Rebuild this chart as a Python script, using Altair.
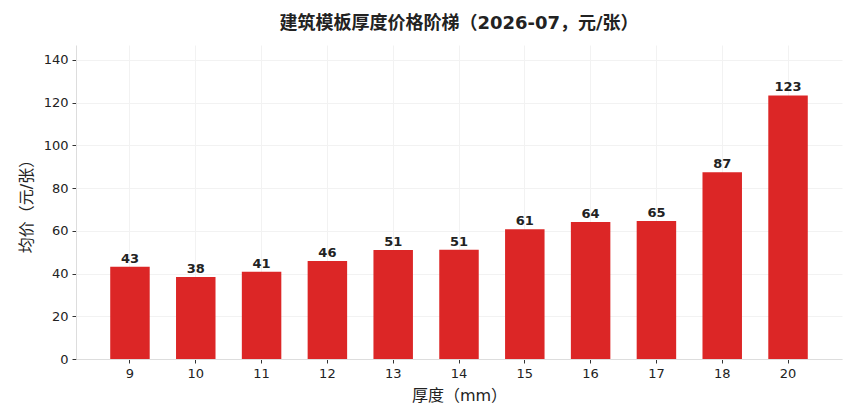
import altair as alt
import pandas as pd

thickness = ["9", "10", "11", "12", "13", "14", "15", "16", "17", "18", "20"]
price = [43.2, 38.4, 40.8, 45.9, 51.0, 51.2, 60.8, 64.1, 64.6, 87.4, 123.4]

df = pd.DataFrame({"厚度": thickness, "均价": price})

FONT = "DejaVu Sans, Noto Sans CJK SC, sans-serif"

base = alt.Chart(df).encode(
    x=alt.X(
        "厚度:N",
        sort=thickness,
        title="厚度（mm）",
        scale=alt.Scale(paddingInner=0.4, paddingOuter=0.52),
        axis=alt.Axis(
            labelAngle=0,
            bandPosition=0.5,
            grid=True,
            gridColor="#f2f2f2",
            domainColor="#dddddd",
            tickColor="#333333",
            tickSize=4,
            labelFontSize=13,
            labelColor="#222222",
            labelPadding=4,
            titleFontSize=16,
            titleFontWeight="normal",
            titleColor="#222222",
            titlePadding=7,
        ),
    ),
    y=alt.Y(
        "均价:Q",
        title="均价（元/张）",
        scale=alt.Scale(domain=[0, 147], nice=False),
        axis=alt.Axis(
            values=[0, 20, 40, 60, 80, 100, 120, 140],
            grid=True,
            gridColor="#f2f2f2",
            domainColor="#dddddd",
            tickColor="#333333",
            tickSize=4,
            labelFontSize=13,
            labelColor="#222222",
            labelPadding=4,
            titleFontSize=16,
            titleFontWeight="normal",
            titleColor="#222222",
            titlePadding=9,
        ),
    ),
)

bars = base.mark_bar(color="#dc2626")
labels = base.mark_text(
    dy=-8, fontSize=13, fontWeight="bold", color="#222222", font=FONT
).encode(text=alt.Text("均价:Q", format=".0f"))

chart = (
    (bars + labels)
    .properties(
        width=766,
        height=314,
        autosize=alt.AutoSizeParams(type="none"),
        padding={"left": 68, "top": 37, "right": 10, "bottom": 53},
        title=alt.TitleParams(
            "建筑模板厚度价格阶梯（2026-07，元/张）",
            fontSize=18,
            fontWeight="bold",
            color="#222222",
            offset=12,
            anchor="middle",
            font=FONT,
        ),
    )
    .configure(font=FONT)
    .configure_view(stroke=None)
    .configure_axis(labelFont=FONT, titleFont=FONT)
)

chart.save("out.html", embed_options={"renderer": "svg", "actions": False})
